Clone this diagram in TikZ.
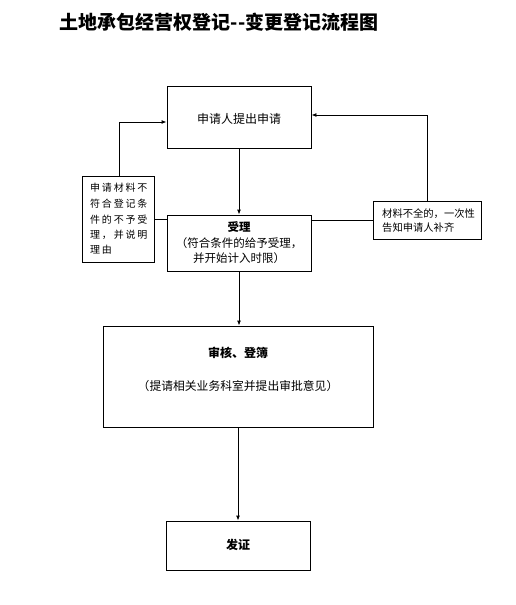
\documentclass[tikz,border=0pt]{standalone}
\usepackage{fontspec}
\newfontfamily\cjk{Noto Sans CJK SC}
\newfontfamily\cjksp[LetterSpace=18]{Noto Sans CJK SC}
\usetikzlibrary{arrows.meta}
\begin{document}
\begin{tikzpicture}[x=1pt,y=-1pt,
  box/.style={draw,line width=0.9pt,inner sep=0pt},
  arr/.style={line width=0.9pt,-{Latex[length=5pt,width=4pt]}},
  conn/.style={line width=0.9pt},
  txt/.style={inner sep=0pt,font=\cjk\fontsize{11.5}{13}\selectfont},
  btxt/.style={inner sep=0pt,font=\cjk\bfseries\fontsize{12}{14}\selectfont},
  ltxt/.style={inner sep=0pt,anchor=west,font=\cjksp\fontsize{10}{12}\selectfont},
  rtxt/.style={inner sep=0pt,anchor=west,font=\cjk\fontsize{10.3}{12}\selectfont}]
\useasboundingbox (0,0) rectangle (516,605);
\node[inner sep=0pt,font=\cjk\bfseries\fontsize{19}{21}\selectfont] (title) at (219,22) {土地承包经营权登记--变更登记流程图};
% boxes
\node[box,minimum width=144,minimum height=62] (b1) at (239,117) {};
\node[box,minimum width=144,minimum height=56] (b2) at (239,243) {};
\node[box,minimum width=270,minimum height=101] (b3) at (238,376.5) {};
\node[box,minimum width=144,minimum height=49] (b4) at (238,545.5) {};
\node[box,minimum width=72,minimum height=86] (nl) at (118,219) {};
\node[box,minimum width=108,minimum height=38] (nr) at (427,220) {};
% texts
\node[txt,font=\cjk\fontsize{12}{14}\selectfont] (t1) at (239,119) {申请人提出申请};
\node[btxt,font=\cjk\bfseries\fontsize{11.5}{13}\selectfont] (t2a) at (239,227) {受理};
\node[txt] (t2b) at (239,243) {（符合条件的给予受理，};
\node[txt] (t2c) at (239,258) {并开始计入时限）};
\node[btxt] (t3a) at (238,353) {审核、登簿};
\node[txt,font=\cjk\fontsize{11.8}{13}\selectfont] (t3b) at (238,386) {（提请相关业务科室并提出审批意见）};
\node[btxt] (t4) at (238,545) {发证};
\node[ltxt] (l1) at (90,188) {申请材料不};
\node[ltxt] (l2) at (90,204) {符合登记条};
\node[ltxt] (l3) at (90,220) {件的不予受};
\node[ltxt] (l4) at (90,235) {理，并说明};
\node[ltxt] (l5) at (90,250) {理由};
\node[rtxt] (r1) at (382,214) {材料不全的，一次性};
\node[rtxt] (r2) at (382,228) {告知申请人补齐};
% connectors
\draw[arr] (b1.south) -- (b2.north);
\draw[arr] (b2.south) -- (b2.south |- b3.north);
\draw[arr] (b3.south) -- (b4.north);
\draw[conn] (nl.east) -- (nl.east -| b2.west);
\draw[conn] (nr.west) -- (nr.west -| b2.east);
\coordinate (lt) at (119,122);
\coordinate (rt) at (427,115);
\draw[arr] (nl.north -| lt) -- (lt) -- (lt -| b1.west);
\draw[arr] (nr.north) -- (rt) -- (rt -| b1.east);
\end{tikzpicture}
\end{document}
